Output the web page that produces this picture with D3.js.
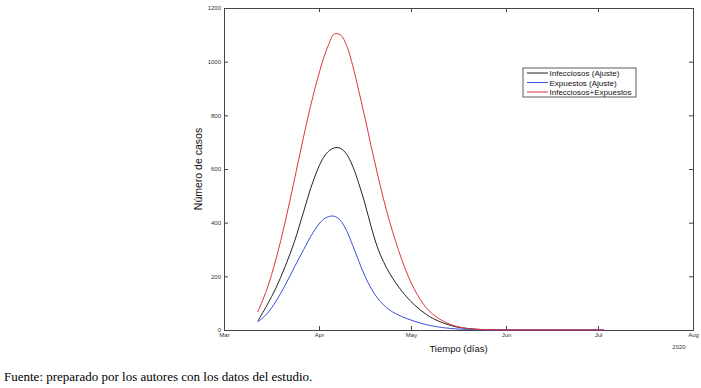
<!DOCTYPE html>
<html>
<head>
<meta charset="utf-8">
<script src="https://cdn.jsdelivr.net/npm/d3@7"></script>
<style>
  body { margin: 0; background: #fff; }
  text { font-family: "Liberation Sans", Arial, sans-serif; }
</style>
</head>
<body>
<svg id="chart" width="701" height="388"></svg>
<script>
// fechas de la curva (cada punto)
var fechas = ["2020-03-12","2020-03-15","2020-03-18","2020-03-21","2020-03-24","2020-03-27","2020-03-30",
  "2020-04-02","2020-04-04","2020-04-06","2020-04-08","2020-04-10","2020-04-12","2020-04-14","2020-04-16",
  "2020-04-18","2020-04-20","2020-04-22","2020-04-24","2020-04-26","2020-04-28","2020-04-30","2020-05-02",
  "2020-05-04","2020-05-06","2020-05-08","2020-05-12","2020-05-16","2020-05-20","2020-05-26","2020-06-04",
  "2020-06-14","2020-06-24","2020-07-03"]

var infecciosos = [33,92,158,238,330,442,552,634,665,679,677,655,610,545,470,385,310,255,212,176,145,118,95,
  75,58,44,24,11,5,1,0,0,0,0]
var expuestos = [30,60,108,168,235,300,362,408,422,424,408,370,315,256,200,155,120,94,75,61,50,41,33,
  26,20,15,8,4,2,0,0,0,0,0]
var suma = [67,152,266,405,562,722,870,995,1060,1103,1100,1060,985,890,790,685,585,490,405,330,262,203,154,
  114,83,60,30,13,5,1,0,0,0,0]

var series = [
  { name: "Infecciosos (Ajuste)", values: infecciosos, color: "#222222" },
  { name: "Expuestos (Ajuste)", values: expuestos, color: "#3a4ee0" },
  { name: "Infecciosos+Expuestos", values: suma, color: "#e0343c" }
]

var yTicks = [0, 200, 400, 600, 800, 1000, 1200]
var xTickLabels = ["Mar", "Apr", "May", "Jun", "Jul", "Aug"]

var svg = d3.select("#chart")
var parse = d3.timeParse("%Y-%m-%d")
var pLeft = 224, pRight = 693, pTop = 8, pBottom = 330

var x = d3.scaleTime()
    .domain([parse("2020-03-01"), parse("2020-08-01")])
    .range([pLeft, pRight])
var y = d3.scaleLinear().domain([0, 1200]).range([pBottom, pTop])

var xTickDates = d3.timeMonth.range(parse("2020-03-01"), parse("2020-08-02"))
var axisColor = "#444"

// ejes (ticks hacia dentro, estilo matlab)
svg.append("g").attr("transform", "translate(0," + pBottom + ")")
    .call(d3.axisBottom(x).tickValues(xTickDates).tickSize(-4).tickPadding(3)
        .tickFormat(function (d, i) { return xTickLabels[i] }))
svg.append("g").attr("transform", "translate(0," + pTop + ")")
    .call(d3.axisTop(x).tickValues(xTickDates).tickSize(-4).tickFormat(""))
svg.append("g").attr("transform", "translate(" + pLeft + ",0)")
    .call(d3.axisLeft(y).tickValues(yTicks).tickSize(-4).tickPadding(3).tickFormat(d3.format("d")))
svg.append("g").attr("transform", "translate(" + pRight + ",0)")
    .call(d3.axisRight(y).tickValues(yTicks).tickSize(-4).tickFormat(""))

svg.selectAll(".domain").attr("stroke", axisColor).attr("stroke-width", 1)
svg.selectAll(".tick line").attr("stroke", axisColor)
svg.selectAll(".tick text").attr("font-size", 6).attr("fill", "#333")
    .style("font-family", "Liberation Sans, Arial, sans-serif")

svg.append("text").attr("x", pRight - 14).attr("y", 349)
    .attr("text-anchor", "middle").attr("font-size", 6).attr("fill", "#333").text("2020")

svg.append("text").attr("x", (pLeft + pRight) / 2).attr("y", 352)
    .attr("text-anchor", "middle").attr("font-size", 9.5).attr("fill", "#111").text("Tiempo (días)")

svg.append("text").attr("transform", "translate(202," + ((pTop + pBottom) / 2) + ") rotate(-90)")
    .attr("text-anchor", "middle").attr("font-size", 10.5).attr("fill", "#111").text("Número de casos")

var line = d3.line()
    .x(function (d) { return x(d.date) })
    .y(function (d) { return y(d.v) })
    .curve(d3.curveCatmullRom.alpha(0.5))

series.forEach(function (s) {
    var pts = fechas.map(function (f, i) { return { date: parse(f), v: s.values[i] } })
    svg.append("path").datum(pts)
        .attr("fill", "none")
        .attr("stroke", s.color)
        .attr("stroke-width", 1)
        .attr("d", line)
})

// leyenda
var leg = svg.append("g").attr("transform", "translate(523,68)")
leg.append("rect").attr("width", 113).attr("height", 29)
    .attr("fill", "#fff").attr("stroke", "#333").attr("stroke-width", 0.8)
series.forEach(function (s, i) {
    var yy = 5 + i * 9.5
    leg.append("line").attr("x1", 4).attr("x2", 25).attr("y1", yy).attr("y2", yy)
        .attr("stroke", s.color).attr("stroke-width", 1)
    leg.append("text").attr("x", 26.5).attr("y", yy + 3).attr("font-size", 8)
        .attr("fill", "#111").text(s.name)
})

svg.append("text").attr("x", 4).attr("y", 381)
    .style("font-family", "Liberation Serif, Times New Roman, serif")
    .attr("font-size", 13).attr("fill", "#000")
    .text("Fuente: preparado por los autores con los datos del estudio.")
</script>
</body>
</html>
